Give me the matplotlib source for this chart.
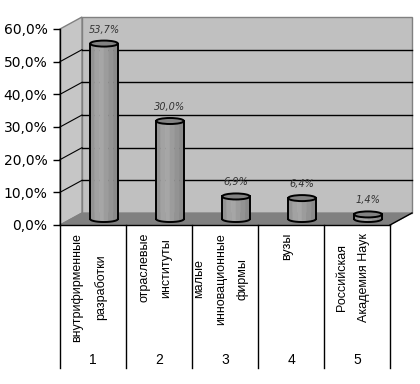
"""
Cylinder bar chart (Excel-style 3D look)
"""
import numpy as np
import matplotlib
matplotlib.use("Agg")
import matplotlib.pyplot as plt
from matplotlib.patches import Polygon, Ellipse

# data
categories = ["внутрифирменные\nразработки",
              "отраслевые\nинституты",
              "малые\nинновационные\nфирмы",
              "вузы",
              "Российская\nАкадемия Наук"]
numbers = ["1", "2", "3", "4", "5"]
values = [53.7, 30.0, 6.9, 6.4, 1.4]
value_labels = ["53,7%", "30,0%", "6,9%", "6,4%", "1,4%"]
y_ticks = [0, 10, 20, 30, 40, 50, 60]

# 3d look: depth offset of the back wall (category units / percent units)
DX = 22 / 66
DY = 12 * 60 / 196
BAR_W = 0.42
ELL_H = 1.84
body_colors = ["#949494", "#a2a2a2", "#a6a6a6", "#9c9c9c", "#939393", "#8a8a8a"]

fig = plt.figure(figsize=(4.2, 3.84), dpi=100)
ax = fig.add_axes([60 / 420, 159 / 384, 330 / 420, 196 / 384])
n = len(values)
ax.set_xlim(0, n)
ax.set_ylim(0, 60)
ax.patch.set_visible(False)
for s in ["top", "right"]:
    ax.spines[s].set_visible(False)
ax.spines["left"].set_linewidth(1.0)
ax.spines["bottom"].set_linewidth(1.0)
ax.spines["left"].set_zorder(6)
ax.spines["bottom"].set_zorder(6)

# walls and floor
top = y_ticks[-1]
ax.add_patch(Polygon([(DX, DY), (n + DX, DY), (n + DX, top + DY), (DX, top + DY)],
                     closed=True, facecolor="#c0c0c0", edgecolor="#808080", lw=1, zorder=0.5, clip_on=False))
ax.add_patch(Polygon([(0, 0), (DX, DY), (DX, top + DY), (0, top)],
                     closed=True, facecolor="#c6c6c6", edgecolor="#808080", lw=1, zorder=0.6, clip_on=False))
for v in y_ticks[1:-1]:
    ax.plot([DX, n + DX], [v + DY, v + DY], color="black", lw=1, zorder=1, clip_on=False)
    ax.plot([0, DX], [v, v + DY], color="black", lw=0.8, zorder=1, clip_on=False)
ax.add_patch(Polygon([(0, 0), (n, 0), (n + DX, DY), (DX, DY)],
                     closed=True, facecolor="#808080", edgecolor="#808080", lw=0.8, zorder=1.2, clip_on=False))
ax.plot([n, n + DX], [0, DY], color="black", lw=1, zorder=1.3, clip_on=False)

# cylinders
for i, v in enumerate(values):
    cx = i + 0.5 + DX / 2
    base = DY / 2
    ytop = base + v
    xs = np.linspace(cx - BAR_W / 2, cx + BAR_W / 2, len(body_colors) + 1)
    for k, c in enumerate(body_colors):
        xx = np.linspace(xs[k], xs[k + 1], 8)
        yb = base - (ELL_H / 2) * np.sqrt(np.clip(1 - ((xx - cx) / (BAR_W / 2)) ** 2, 0, 1))
        pts = [(xs[k], ytop), (xs[k + 1], ytop)] + list(zip(xx[::-1], yb[::-1]))
        ax.add_patch(Polygon(pts, closed=True, facecolor=c, edgecolor=c, lw=0.3, zorder=3, clip_on=False))
    # outline
    t = np.linspace(np.pi, 2 * np.pi, 40)
    ax.plot(cx + BAR_W / 2 * np.cos(t), base + ELL_H / 2 * np.sin(t), color="black", lw=1.4, zorder=4, clip_on=False)
    ax.plot([cx - BAR_W / 2] * 2, [base, ytop], color="black", lw=1.4, zorder=4, clip_on=False)
    ax.plot([cx + BAR_W / 2] * 2, [base, ytop], color="black", lw=1.4, zorder=4, clip_on=False)
    ax.add_patch(Ellipse((cx, ytop), BAR_W, ELL_H, facecolor="#828282", edgecolor="black", lw=1.4, zorder=5, clip_on=False))
    ax.text(cx, ytop + 4.3, value_labels[i], ha="center", va="center", fontsize=7,
            style="italic", color="#333333", family="DejaVu Sans", zorder=7)

# y axis
ax.set_yticks(y_ticks)
ax.set_yticklabels([("%.1f%%" % v).replace(".", ",") for v in y_ticks], fontsize=10, family="DejaVu Sans")
ax.tick_params(axis="y", direction="out", length=5, width=1, pad=4)
ax.set_xticks([])

# category table below the axis
xtr = ax.get_xaxis_transform()
for k in range(n + 1):
    ax.plot([k, k], [0, -0.73], color="black", lw=1, transform=xtr, clip_on=False)
for i in range(n):
    ax.text(i + 0.44, -0.041, categories[i], rotation=90, ha="center", va="top",
            multialignment="center", linespacing=2.1, fontsize=9, family="Liberation Sans",
            transform=xtr)
    ax.text(i + 0.5, -0.689, numbers[i], ha="center", va="center", fontsize=10,
            family="Liberation Sans", transform=xtr)

fig.savefig("out.png", dpi=100)
